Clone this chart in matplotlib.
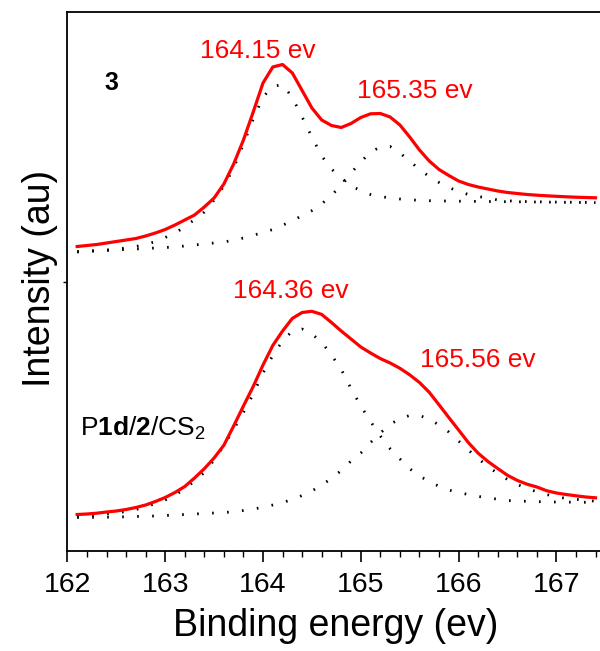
# XPS S 2p fits: compound 3 (top) and P1d/2/CS2 (bottom)
import numpy as np
import matplotlib
matplotlib.use('agg')
import matplotlib.pyplot as plt

plt.rcParams['font.family'] = ['Liberation Sans', 'DejaVu Sans']
plt.rcParams['mathtext.fontset'] = 'custom'
plt.rcParams['mathtext.rm'] = 'Liberation Sans'
plt.rcParams['mathtext.bf'] = 'Liberation Sans:bold'

## binding energy grid (ev)
energy = np.round(np.arange(162.1, 167.41, 0.1), 2)

## sample 3 (upper trace), intensity in au
top_envelope = [304.5, 305.5, 306.5, 308, 309.5, 311, 312.5, 315, 318, 321.5,
                326, 331, 336, 344, 353, 367, 387, 411, 439, 468,
                484, 486.5, 478, 460.5, 443, 431, 425.5, 423.5, 427.5, 433.5,
                437.2, 437.5, 434, 426, 414, 401, 390, 381.5, 375.5, 370,
                366.5, 364, 362, 360, 358.5, 357.5, 356.5, 355.8, 355.2, 354.7,
                354.2, 353.8, 353.5, 353.2]
top_peak1 = [299.5, 300, 300.5, 301, 302, 303, 304.5, 306.5, 309.5, 313.5,
             318, 324, 331.5, 339, 351, 365, 383, 407, 432, 454,
             464.5, 466.5, 453.5, 434, 414, 395, 382, 373, 365, 360.5,
             356.5, 354.5, 353, 352, 351.2, 350.7, 350.3, 350, 350, 349.8,
             349.7, 349.6, 349.5, 349.4, 349.3, 349.2, 349.1, 349, 348.9, 348.8,
             348.7, 348.6, 348.5, 348.4]
top_peak2 = [299, 299.5, 300, 300.5, 301, 301.5, 302, 302.5, 303, 303.5,
             304, 305, 306, 307, 308, 309, 310.8, 313, 315.7, 318.5,
             321.5, 325.8, 330, 335.5, 340.4, 347, 356, 365, 378, 389,
             399, 404, 404.5, 398, 390, 381.5, 374.5, 368.5, 363.5, 359.6,
             356.5, 354.5, 353, 351, 350.2, 349.7, 349.4, 349.2, 349, 348.9,
             348.8, 348.7, 348.6, 348.5]

## sample P1d/2/CS2 (lower trace)
bot_envelope = [36.5, 37, 37.8, 39, 40, 41.5, 43.5, 46, 49.5, 53.5,
                58.5, 64.5, 73, 82.3, 93, 105.8, 125, 145, 164.5, 186,
                205.5, 220, 232.6, 238.5, 239.7, 236.6, 228.5, 220, 212, 204,
                198, 192.4, 188, 182.7, 176.2, 168.5, 158.7, 146.2, 133.5, 121,
                108.4, 97.8, 89.5, 82.5, 75.7, 70.6, 66.8, 64, 60.3, 58,
                56.5, 55.2, 54, 53.2]
bot_peak1 = [34.5, 35, 36, 37, 38, 39.5, 41.5, 44, 47.5, 51,
             56, 62, 70, 78.5, 91, 105.3, 121.8, 138.5, 157, 178,
             195.5, 210, 220, 222, 217, 208.8, 196, 181.6, 162.5, 145,
             129.5, 115, 102.2, 92.1, 82.3, 75, 69.4, 64.7, 61, 58.5,
             56.5, 54.6, 53.1, 51.8, 50.5, 50, 49.7, 49.4, 49.1, 49,
             48.9, 48.8, 48.7, 48.6]
bot_peak2 = [33.5, 33.5, 33.7, 33.8, 34, 34.2, 34.5, 34.8, 35, 35.5,
             36, 36.5, 37, 37.5, 38, 38.5, 39.2, 40.5, 42, 43.7,
             46, 48.5, 51.5, 55.5, 60, 66, 72.5, 80.5, 90, 98,
             108.5, 118, 126.5, 132.5, 135.5, 135.5, 132, 126, 119, 110,
             101, 92.5, 84.5, 77.5, 71.5, 66.5, 62.5, 59.2, 56.5, 54.2,
             52.6, 51.7, 50.7, 49.8]

# peak labels: text, x (ev), baseline y (au)
peak_labels = ['164.15 ev', '165.35 ev', '164.36 ev', '165.56 ev']
peak_label_x = [163.355, 164.96, 163.696, 165.605]
peak_label_y = [493, 452.7, 252.7, 183.7]

fig = plt.figure(figsize=(6.0, 6.51), dpi=100)
ax = fig.add_axes([67.4/600, 1-551/651, 533/600, 539/651])

dots = dict(color='black', lw=2.0, linestyle=(0, (0.6, 4.8)))
for comp in (top_peak1, top_peak2, bot_peak1, bot_peak2):
    ax.plot(energy, comp, **dots)
ax.plot(energy, top_envelope, color='#ff0000', lw=2.3)
ax.plot(energy, bot_envelope, color='#ff0000', lw=2.3)

for s, x, y in zip(peak_labels, peak_label_x, peak_label_y):
    ax.text(x, y, s, color='#ff0000', fontsize=19, ha='left', va='baseline')
ax.text(162.384, 461, '3', fontsize=18, fontweight='bold', ha='left', va='baseline')
ax.text(162.129, 116, r'P$\mathbf{1d}$/$\mathbf{2}$/CS$_2$', fontsize=19,
        ha='left', va='baseline')

ax.set_xlim(162, 167.45)
ax.set_ylim(0, 539)
ax.set_xticks(np.arange(162, 168, 1))
ax.set_xticks(np.arange(162, 167.5, 0.2), minor=True)
ax.set_yticks([269])
ax.set_yticklabels([])
ax.tick_params(axis='x', which='major', direction='out', length=8, width=1.2,
               labelsize=20.5, pad=7)
ax.tick_params(axis='x', which='minor', direction='out', length=4.3, width=1.0)
ax.tick_params(axis='y', direction='out', length=3, width=1.0)
ax.spines['right'].set_visible(False)
for sp in ('left', 'top', 'bottom'):
    ax.spines[sp].set_linewidth(1.3)

ax.set_xlabel('Binding energy (ev)', fontsize=27)
ax.set_ylabel('Intensity (au)', fontsize=27)
ax.xaxis.set_label_coords(0.504, -0.106)
ax.yaxis.set_label_coords(-0.018, 0.5056)

fig.savefig('out.png', dpi=100)
